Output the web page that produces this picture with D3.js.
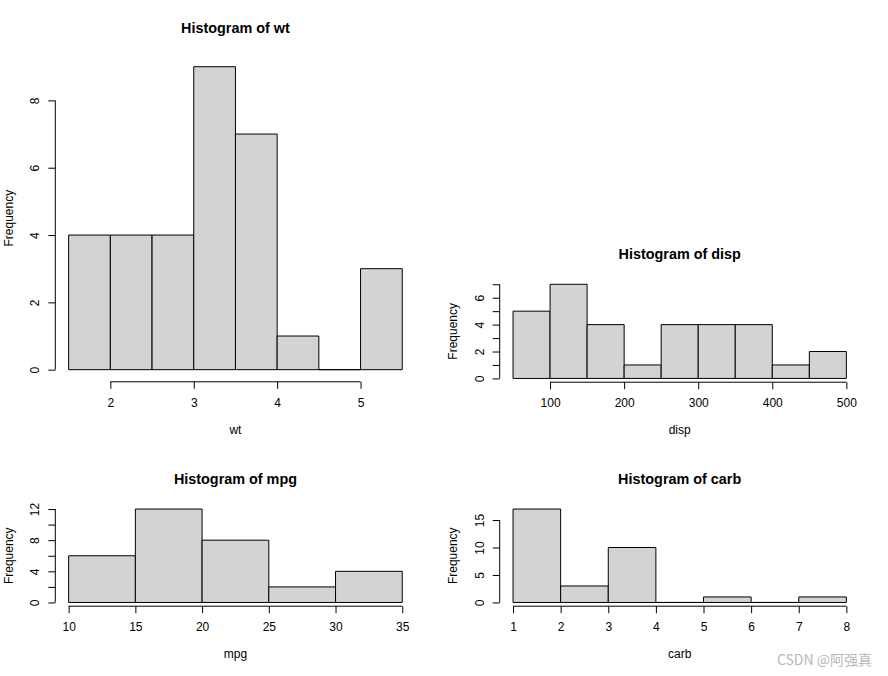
<!DOCTYPE html>
<html>
<head>
  <title>Histograms of mtcars</title>
  <script src="https://d3js.org/d3.v7.min.js"></script>
  <style>
    body { margin: 0; background: #fff; }
    text { font-family: "Liberation Sans", Arial, sans-serif; fill: #000; }
  </style>
</head>
<body>
  <div id="chart"></div>
  <script>
// histogram data: bin edges and counts
const wtBreaks = [1.5, 2, 2.5, 3, 3.5, 4, 4.5, 5, 5.5];
const wtCounts = [4, 4, 4, 9, 7, 1, 0, 3];
const wtXTicks = [2, 3, 4, 5];
const wtYTicks = [0, 2, 4, 6, 8];
const wtYLabels = [0, 2, 4, 6, 8];

const dispBreaks = [50, 100, 150, 200, 250, 300, 350, 400, 450, 500];
const dispCounts = [5, 7, 4, 1, 4, 4, 4, 1, 2];
const dispXTicks = [100, 200, 300, 400, 500];
const dispYTicks = [0, 1, 2, 3, 4, 5, 6, 7];
const dispYLabels = [0, 2, 4, 6];

const mpgBreaks = [10, 15, 20, 25, 30, 35];
const mpgCounts = [6, 12, 8, 2, 4];
const mpgXTicks = [10, 15, 20, 25, 30, 35];
const mpgYTicks = [0, 2, 4, 6, 8, 10, 12];
const mpgYLabels = [0, 4, 8, 12];

const carbBreaks = [1, 2, 3, 4, 5, 6, 7, 8];
const carbCounts = [17, 3, 10, 0, 1, 0, 1];
const carbXTicks = [1, 2, 3, 4, 5, 6, 7, 8];
const carbYTicks = [0, 5, 10, 15];
const carbYLabels = [0, 5, 10, 15];

const width = 888, height = 676;

const svg = d3.select("#chart")
  .append("svg")
  .attr("width", width)
  .attr("height", height);

// plot regions (like R's par("plt")), in pixels
const panels = [
  { name: "wt", breaks: wtBreaks, counts: wtCounts, xTicks: wtXTicks, yTicks: wtYTicks, yLabels: wtYLabels,
    box: { left: 55.3, right: 415.6, top: 54.6, bottom: 381.8 } },
  { name: "disp", breaks: dispBreaks, counts: dispCounts, xTicks: dispXTicks, yTicks: dispYTicks, yLabels: dispYLabels,
    box: { left: 499.7, right: 859.7, top: 280.5, bottom: 382.2 } },
  { name: "mpg", breaks: mpgBreaks, counts: mpgCounts, xTicks: mpgXTicks, yTicks: mpgYTicks, yLabels: mpgYLabels,
    box: { left: 55.3, right: 415.6, top: 505.3, bottom: 606.2 } },
  { name: "carb", breaks: carbBreaks, counts: carbCounts, xTicks: carbXTicks, yTicks: carbYTicks, yLabels: carbYLabels,
    box: { left: 499.7, right: 859.7, top: 505.3, bottom: 606.2 } }
];

panels.forEach(drawHist);

function drawHist(p) {
  const b = p.box;
  const x0 = p.breaks[0], x1 = p.breaks[p.breaks.length - 1];
  const xPad = (x1 - x0) * 0.04;
  const yMax = d3.max(p.counts);
  const yPad = yMax * 0.04;

  const xScale = d3.scaleLinear()
    .domain([x0 - xPad, x1 + xPad])
    .range([b.left, b.right]);
  const yScale = d3.scaleLinear()
    .domain([-yPad, yMax + yPad])
    .range([b.bottom, b.top]);

  const bins = p.counts.map((c, i) => ({ x0: p.breaks[i], x1: p.breaks[i + 1], n: c }));

  const g = svg.append("g");

  // bars as paths so empty bins still show their base line
  g.selectAll("path.bar")
    .data(bins)
    .enter()
    .append("path")
    .attr("class", "bar")
    .attr("d", d => {
      const xa = xScale(d.x0), xb = xScale(d.x1);
      const ya = yScale(0), yb = yScale(d.n);
      return `M${xa},${ya}H${xb}V${yb}H${xa}Z`;
    })
    .attr("fill", "#d3d3d3")
    .attr("stroke", "#000")
    .attr("stroke-width", 1);

  // x axis: line only between first and last tick
  const xAxis = g.append("g")
    .attr("transform", `translate(0,${b.bottom})`)
    .call(d3.axisBottom(xScale).tickValues(p.xTicks).tickFormat(d => String(d))
      .tickSize(7).tickSizeOuter(0));
  xAxis.select(".domain").remove();
  xAxis.selectAll("line").attr("stroke", "#000");
  xAxis.selectAll("text")
    .attr("y", 25)
    .attr("dy", null)
    .style("font-size", "12px")
    .style("font-family", "'Liberation Sans', Arial, sans-serif")
    .attr("fill", "#000");
  xAxis.append("line")
    .attr("x1", xScale(p.xTicks[0]))
    .attr("x2", xScale(p.xTicks[p.xTicks.length - 1]))
    .attr("stroke", "#000");

  // y axis with rotated labels
  const yAxis = g.append("g")
    .attr("transform", `translate(${b.left},0)`)
    .call(d3.axisLeft(yScale).tickValues(p.yTicks).tickSize(7).tickSizeOuter(0));
  yAxis.select(".domain").remove();
  yAxis.selectAll("line").attr("stroke", "#000");
  yAxis.selectAll("text")
    .attr("x", null)
    .attr("dy", null)
    .attr("transform", "translate(-16,0) rotate(-90)")
    .attr("text-anchor", "middle")
    .style("font-size", "12px")
    .style("font-family", "'Liberation Sans', Arial, sans-serif")
    .attr("fill", "#000")
    .text(d => p.yLabels.includes(d) ? String(d) : "");
  yAxis.append("line")
    .attr("y1", yScale(p.yTicks[0]))
    .attr("y2", yScale(p.yTicks[p.yTicks.length - 1]))
    .attr("stroke", "#000");

  const cx = (b.left + b.right) / 2;

  // title
  g.append("text")
    .attr("x", cx)
    .attr("y", b.top - 21.3)
    .attr("text-anchor", "middle")
    .style("font-size", "14.4px")
    .style("font-weight", "bold")
    .text("Histogram of " + p.name);

  // x label
  g.append("text")
    .attr("x", cx)
    .attr("y", b.bottom + 52)
    .attr("text-anchor", "middle")
    .style("font-size", "12px")
    .text(p.name);

  // y label
  g.append("text")
    .attr("transform", `translate(${b.left - 42.7},${(b.top + b.bottom) / 2}) rotate(-90)`)
    .attr("text-anchor", "middle")
    .style("font-size", "12px")
    .text("Frequency");
}

// watermark
svg.append("text")
  .attr("x", 872)
  .attr("y", 665)
  .attr("text-anchor", "end")
  .style("font-family", "'Noto Sans CJK SC', 'Liberation Sans', sans-serif")
  .style("font-size", "14px")
  .style("fill", "#b8b8b8")
  .text("CSDN @阿强真");
  </script>
</body>
</html>
